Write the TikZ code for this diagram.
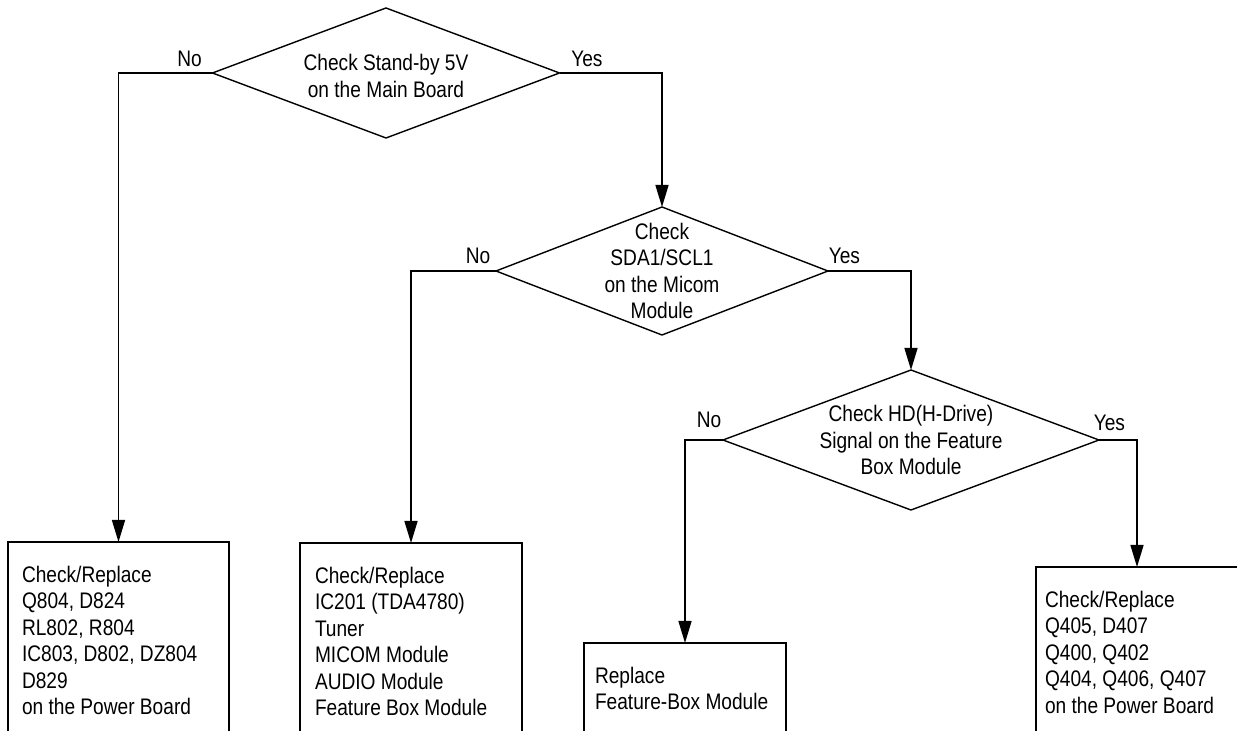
\documentclass[tikz,border=0pt]{standalone}
\usepackage{fontspec}
\setmainfont{Liberation Sans}[FakeStretch=0.85]
\usetikzlibrary{shapes.geometric, arrows.meta, positioning}
\tikzset{question/.style={diamond, draw, line width=0.7pt, inner sep=0pt, outer sep=0pt},
  qtext/.style={align=center, inner sep=0pt},
  action/.style={draw, anchor=north west, align=flush left, inner ysep=12pt, outer sep=0pt, text depth=110pt},
  answer/.style={inner sep=0pt}}

\begin{document}
\begin{tikzpicture}[x=0.5pt, y=-0.5pt, >={Triangle[length=11pt,width=6.5pt]},
    line width=0.75pt, font=\fontsize{11.25}{13.25}\selectfont]
    \useasboundingbox (0,0) rectangle (1237,731);
    \clip (0,0) rectangle (1237,731);

    \node[question, minimum width=173.5pt, minimum height=65pt] (q-1) at (386,73) {};
    \node[qtext, yshift=-1.5pt] (t-1) at (q-1) {Check Stand-by 5V\\on the Main Board};

    \node[question, minimum width=166pt, minimum height=64pt] (q-2) at (662,271) {};
    \node[qtext] (t-2) at (q-2) {Check\\SDA1/SCL1\\on the Micom\\Module};

    \node[question, minimum width=188pt, minimum height=70pt] (q-3) at (911,440) {};
    \node[qtext] (t-3) at (q-3) {Check HD(H-Drive)\\Signal on the Feature\\Box Module};

    \node[action, inner xsep=7pt, text width=96.5pt] (a-1) at (8,542)
      {Check/Replace\\Q804, D824\\RL802, R804\\IC803, D802, DZ804\\D829\\on the Power Board};
    \node[action, inner xsep=7.5pt, text width=96pt] (a-2) at (300,543)
      {Check/Replace\\IC201 (TDA4780)\\Tuner\\MICOM Module\\AUDIO Module\\Feature Box Module};
    \node[action, inner xsep=5.5pt, text width=90pt] (a-3) at (584,643)
      {Replace\\Feature-Box Module};
    \node[action, inner xsep=4.5pt, text width=92pt] (a-4) at (1036,567)
      {Check/Replace\\Q405, D407\\Q400, Q402\\Q404, Q406, Q407\\on the Power Board};

    \node[answer, above left=3pt and 5pt of q-1.west] (no-1) {No};
    \node[answer, above right=3pt and 5.5pt of q-1.east] (yes-1) {Yes};
    \node[answer, above left=3.5pt and 2.5pt of q-2.west] (no-2) {No};
    \node[answer, above right=3.5pt and 0pt of q-2.east] (yes-2) {Yes};
    \node[answer, above left=6pt and 0.5pt of q-3.west] (no-3) {No};
    \node[answer, above right=4.5pt and -3pt of q-3.east] (yes-3) {Yes};

    \draw[->] (q-1.west) -| (a-1.north);
    \draw[->] (q-1.east) -| (q-2.north);
    \draw[->] (q-2.west) -| (a-2.north);
    \draw[->] (q-2.east) -| (q-3.north);
    \draw[->] (q-3.west) -| (a-3.north);
    \draw[->] (q-3.east) -| (a-4.north);
\end{tikzpicture}
\end{document}
